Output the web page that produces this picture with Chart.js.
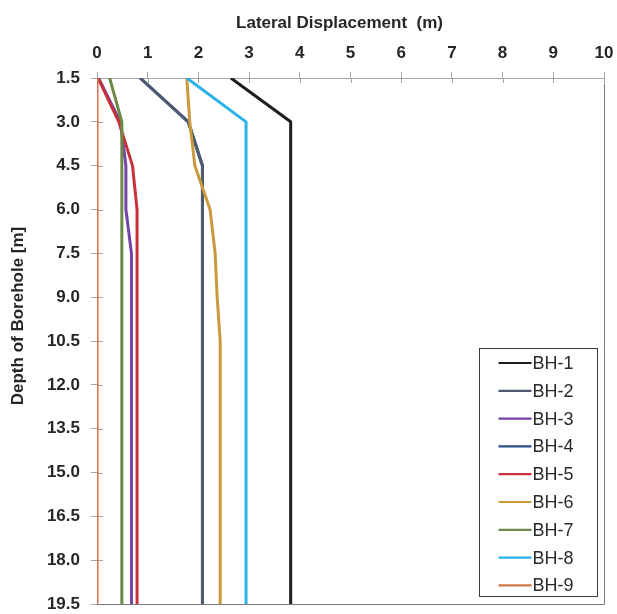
<!DOCTYPE html>
<html>
<head>
<meta charset="utf-8">
<script src="https://cdn.jsdelivr.net/npm/chart.js@4.4.1/dist/chart.umd.min.js"></script>
<style>
  html, body { margin: 0; padding: 0; background: #ffffff; }
  canvas { display: block; }
</style>
</head>
<body>
<canvas id="chart" width="617" height="614"></canvas>
<script>
// Borehole depths (m) and displacement tick values (m)
const depths = [1.5, 3.0, 4.5, 6.0, 7.5, 9.0, 10.5, 12.0, 13.5, 15.0, 16.5, 18.0, 19.5];
const displacementTicks = [0, 1, 2, 3, 4, 5, 6, 7, 8, 9, 10];

// Lateral displacement (m) at each depth, per borehole
const bh1 = [2.64, 3.82, 3.82, 3.82, 3.82, 3.82, 3.82, 3.82, 3.82, 3.82, 3.82, 3.82, 3.82];
const bh2 = [0.85, 1.80, 2.08, 2.08, 2.08, 2.08, 2.08, 2.08, 2.08, 2.08, 2.08, 2.08, 2.08];
const bh3 = [0.03, 0.46, 0.57, 0.57, 0.68, 0.68, 0.68, 0.68, 0.68, 0.68, 0.68, 0.68, 0.68];
const bh4 = [0.85, 1.80, 2.08, 2.08, 2.08, 2.08, 2.08, 2.08, 2.08, 2.08, 2.08, 2.08, 2.08];
const bh5 = [0.02, 0.43, 0.70, 0.79, 0.79, 0.79, 0.79, 0.79, 0.79, 0.79, 0.79, 0.79, 0.79];
const bh6 = [1.77, 1.83, 1.93, 2.23, 2.33, 2.37, 2.43, 2.43, 2.43, 2.43, 2.43, 2.43, 2.43];
const bh7 = [0.25, 0.49, 0.49, 0.49, 0.49, 0.49, 0.49, 0.49, 0.49, 0.49, 0.49, 0.49, 0.49];
const bh8 = [1.77, 2.94, 2.94, 2.94, 2.94, 2.94, 2.94, 2.94, 2.94, 2.94, 2.94, 2.94, 2.94];
const bh9 = [0.00, 0.00, 0.00, 0.00, 0.00, 0.00, 0.00, 0.00, 0.00, 0.00, 0.00, 0.00, 0.00];

const seriesNames = ['BH-1', 'BH-2', 'BH-3', 'BH-4', 'BH-5', 'BH-6', 'BH-7', 'BH-8', 'BH-9'];
const seriesValues = [bh1, bh2, bh3, bh4, bh5, bh6, bh7, bh8, bh9];
const seriesColors = ['#1e1e1e', '#4e5a6e', '#7245a6', '#2c4d8c', '#c8313a', '#c99a3c', '#6a8a46', '#2cb2ea', '#d0784a'];

const FONT = '"Liberation Sans", Arial, sans-serif';

// later boreholes are painted over earlier ones; BH-4 sits beneath BH-2
const datasets = seriesNames.map((name, i) => ({
  label: name,
  data: seriesValues[i].map((v, k) => ({ x: v, y: depths[k] })),
  borderColor: seriesColors[i],
  backgroundColor: seriesColors[i],
  borderWidth: 3,
  pointRadius: 0,
  tension: 0,
  fill: false,
  borderJoinStyle: 'round',
  order: name === 'BH-4' ? 20 : 10 - i
}));

// inner tick stubs plus right/bottom frame of the plot area
const framePlugin = {
  id: 'frame',
  beforeDatasetsDraw(chart) {
    const { ctx, chartArea: a, scales: { x, y } } = chart;
    ctx.save();
    ctx.lineWidth = 1;
    ctx.strokeStyle = '#a6a6a6';
    ctx.beginPath();
    x.ticks.forEach(t => {
      const px = Math.round(x.getPixelForValue(t.value)) + 0.5;
      ctx.moveTo(px, a.top);
      ctx.lineTo(px, a.top + 5);
    });
    y.ticks.forEach(t => {
      const py = Math.round(y.getPixelForValue(t.value)) + 0.5;
      ctx.moveTo(a.left, py);
      ctx.lineTo(a.left + 6, py);
    });
    ctx.stroke();
    ctx.strokeStyle = '#7a7a7a';
    ctx.beginPath();
    ctx.moveTo(Math.round(a.right) + 0.5, a.top + 6);
    ctx.lineTo(Math.round(a.right) + 0.5, Math.round(a.bottom) + 0.5);
    ctx.lineTo(a.left, Math.round(a.bottom) + 0.5);
    ctx.stroke();
    ctx.restore();
  }
};

// axis titles
const titlePlugin = {
  id: 'axisTitles',
  afterDraw(chart) {
    const { ctx, chartArea: a } = chart;
    ctx.save();
    ctx.fillStyle = '#262626';
    ctx.textAlign = 'center';
    ctx.textBaseline = 'middle';
    ctx.font = 'bold 17px ' + FONT;
    ctx.fillText('Lateral Displacement  (m)', (a.left + a.right) / 2 - 11, 23);
    ctx.translate(18, (a.top + a.bottom) / 2 - 25);
    ctx.rotate(-Math.PI / 2);
    ctx.font = 'bold 17px ' + FONT;
    ctx.fillText('Depth of Borehole [m]', 0, 0);
    ctx.restore();
  }
};

// boxed legend inside the lower right of the plot
const legendPlugin = {
  id: 'boxLegend',
  afterDraw(chart) {
    const { ctx, chartArea: a } = chart;
    const right = Math.round(a.right) - 6.5;
    const left = right - 118;
    const bottom = Math.round(a.bottom) - 7.5;
    const top = bottom - 248;
    const rowGap = 27.8;
    ctx.save();
    ctx.fillStyle = '#ffffff';
    ctx.fillRect(left, top, right - left, bottom - top);
    ctx.strokeStyle = '#3a3a3a';
    ctx.lineWidth = 1;
    ctx.strokeRect(left, top, right - left, bottom - top);
    ctx.font = '18px ' + FONT;
    ctx.textAlign = 'left';
    ctx.textBaseline = 'middle';
    chart.data.datasets.forEach((ds, i) => {
      const cy = top + 14.5 + i * rowGap;
      ctx.strokeStyle = ds.borderColor;
      ctx.lineWidth = 2.2;
      ctx.beginPath();
      ctx.moveTo(left + 19, cy);
      ctx.lineTo(left + 52, cy);
      ctx.stroke();
      ctx.fillStyle = '#2a2a2a';
      ctx.fillText(ds.label, left + 53, cy + 1);
    });
    ctx.restore();
  }
};

new Chart(document.getElementById('chart'), {
  type: 'line',
  data: { datasets },
  options: {
    responsive: false,
    animation: false,
    layout: { padding: { left: 0, top: 0, right: 13, bottom: 10 } },
    plugins: { legend: { display: false }, tooltip: { enabled: false } },
    scales: {
      x: {
        type: 'linear',
        position: 'top',
        min: 0,
        max: 10,
        afterBuildTicks: s => { s.ticks = displacementTicks.map(v => ({ value: v })); },
        afterFit: s => { s.height = 78; s.paddingLeft = 0; s.paddingRight = 0; },
        grid: { drawOnChartArea: false, drawTicks: true, tickLength: 6, color: '#a6a6a6' },
        border: { color: '#a6a6a6', width: 1 },
        ticks: { color: '#262626', padding: 8, font: { family: FONT, size: 17, weight: 'bold' } }
      },
      y: {
        type: 'linear',
        reverse: true,
        min: 1.5,
        max: 19.5,
        afterBuildTicks: s => { s.ticks = depths.map(v => ({ value: v })); },
        afterFit: s => { s.width = 97; s.paddingTop = 0; s.paddingBottom = 0; },
        grid: { drawOnChartArea: false, drawTicks: true, tickLength: 6, color: '#a6a6a6' },
        border: { color: '#a6a6a6', width: 1 },
        ticks: {
          color: '#262626',
          padding: 11,
          font: { family: FONT, size: 17, weight: 'bold' },
          callback: v => Number(v).toFixed(1)
        }
      }
    }
  },
  plugins: [framePlugin, titlePlugin, legendPlugin]
});
</script>
</body>
</html>
